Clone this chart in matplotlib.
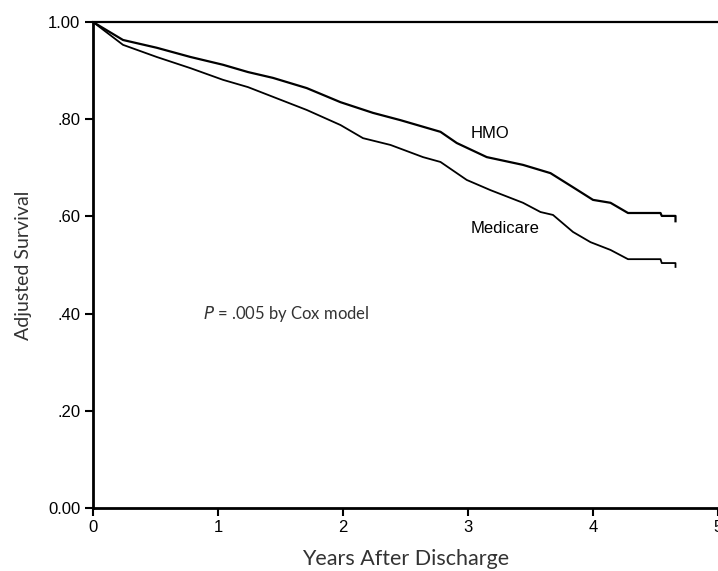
import numpy as np
import matplotlib.pyplot as plt

# survival curves (years, adjusted survival)
hmo_years = [0.0, 0.24, 0.51, 0.78, 1.04, 1.24, 1.44, 1.71, 1.98, 2.24, 2.46,
             2.78, 2.91, 3.15, 3.44, 3.66, 3.84, 4.0, 4.14, 4.28, 4.54, 4.55,
             4.66, 4.66]
hmo_surv = [1.0, 0.963, 0.947, 0.928, 0.912, 0.897, 0.885, 0.864, 0.835, 0.813,
            0.798, 0.774, 0.751, 0.722, 0.706, 0.689, 0.660, 0.634, 0.628,
            0.607, 0.607, 0.601, 0.601, 0.59]

medicare_years = [0.0, 0.24, 0.51, 0.78, 1.04, 1.24, 1.44, 1.71, 1.98, 2.16,
                  2.38, 2.64, 2.78, 2.99, 3.18, 3.44, 3.58, 3.68, 3.84, 3.98,
                  4.14, 4.28, 4.54, 4.55, 4.66, 4.66]
medicare_surv = [1.0, 0.953, 0.928, 0.905, 0.881, 0.866, 0.846, 0.819, 0.788,
                 0.761, 0.747, 0.722, 0.712, 0.675, 0.654, 0.628, 0.609, 0.603,
                 0.568, 0.547, 0.531, 0.512, 0.512, 0.504, 0.504, 0.496]

x_ticks = [0, 1, 2, 3, 4, 5]
y_ticks = [0.0, 0.2, 0.4, 0.6, 0.8, 1.0]
y_tick_labels = ["0.00", ".20", ".40", ".60", ".80", "1.00"]

label_font = "Lato"

fig = plt.figure(figsize=(7.18, 5.71), dpi=100)
ax = fig.add_axes([93 / 718, 63 / 571, 1 - 93 / 718, 486 / 571])

ax.plot(hmo_years, hmo_surv, color="black", lw=1.6)
ax.plot(medicare_years, medicare_surv, color="black", lw=1.3)

ax.set_xlim(0, 5)
ax.set_ylim(0, 1.0)

ax.spines["right"].set_visible(False)
ax.spines["left"].set_linewidth(2)
ax.spines["bottom"].set_linewidth(2)
ax.spines["top"].set_linewidth(1.6)

ax.set_xticks(x_ticks)
ax.set_xticklabels([str(t) for t in x_ticks], fontfamily="Liberation Sans",
                   fontsize=12)
ax.set_yticks(y_ticks)
ax.set_yticklabels(y_tick_labels, fontfamily="Liberation Sans", fontsize=12)
ax.tick_params(direction="out", length=6, width=1.5, pad=3)

ax.set_xlabel("Years After Discharge", fontfamily=label_font, fontsize=15.5,
              color="#333333", labelpad=10)
ax.set_ylabel("Adjusted Survival", fontfamily=label_font, fontsize=14,
              color="#333333", labelpad=12)

ax.text(3.02, 0.77, "HMO", fontfamily="Liberation Sans", fontsize=12,
        ha="left", va="center")
ax.text(3.02, 0.575, "Medicare", fontfamily="Liberation Sans", fontsize=12,
        ha="left", va="center")
ax.text(0.88, 0.40, r"$\it{P}$ = .005 by Cox model", fontfamily=label_font,
        fontsize=12, color="#333333", ha="left", va="center")

fig.savefig("out.png", dpi=100)
